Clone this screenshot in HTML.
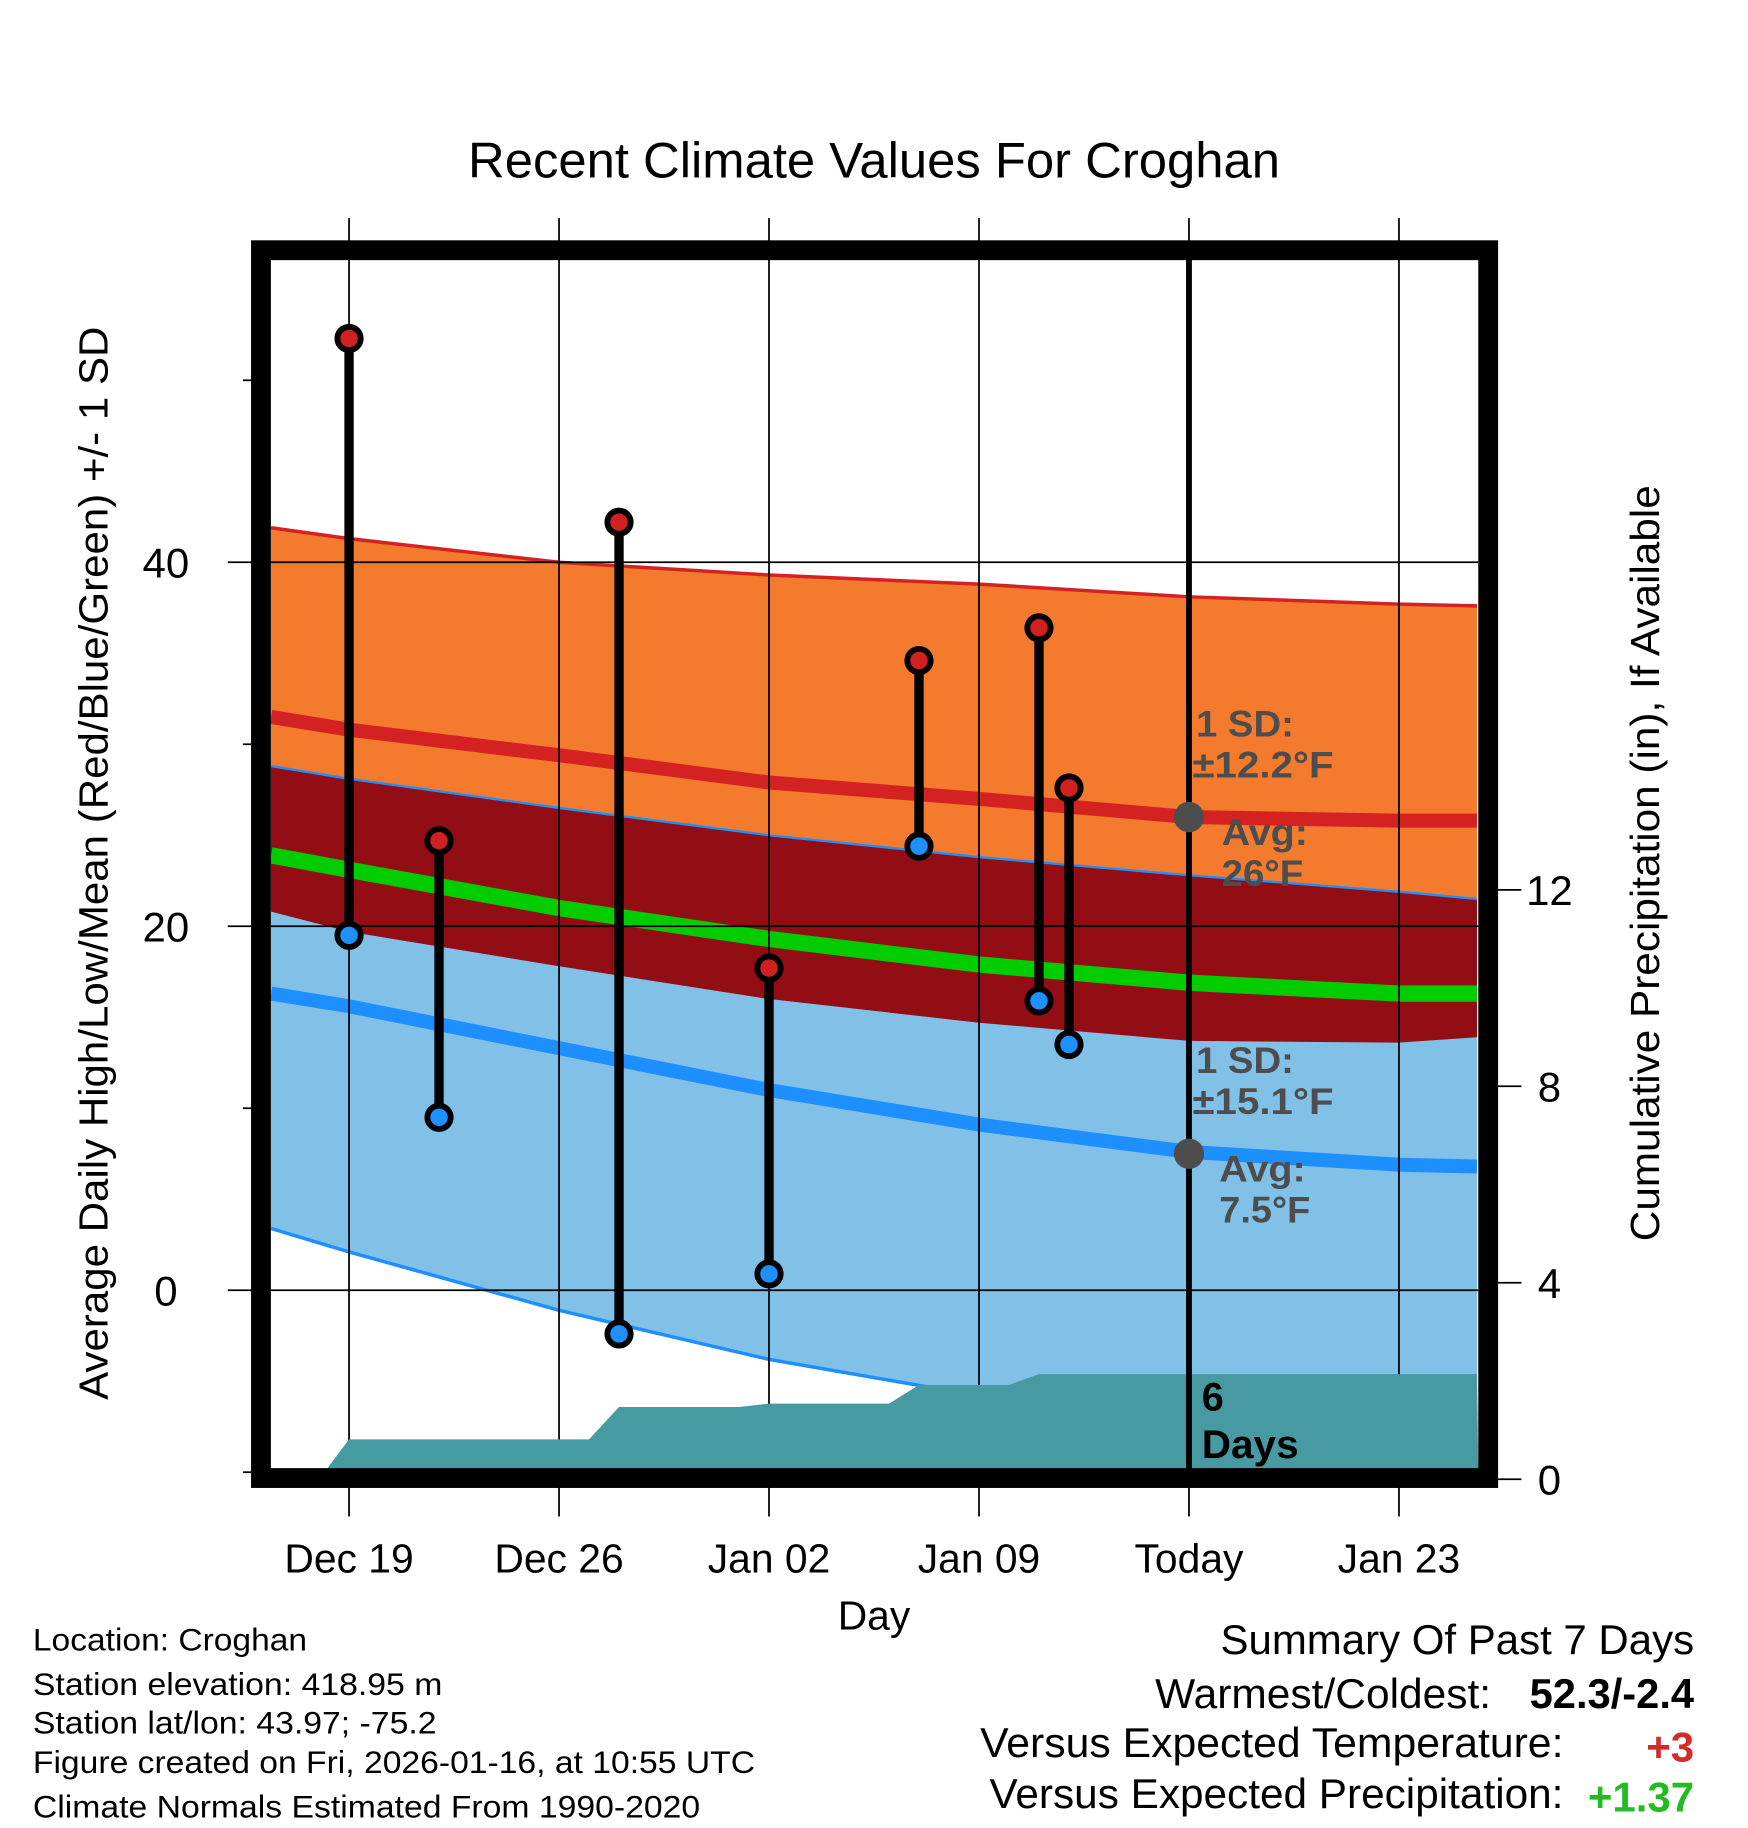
<!DOCTYPE html>
<html><head><meta charset="utf-8"><style>
html,body{margin:0;padding:0;background:#fff}
svg{display:block;font-family:"Liberation Sans",Arial,sans-serif}
</style></head><body>
<svg id="chart" width="1748" height="1828" viewBox="0 0 1498 1567" xmlns="http://www.w3.org/2000/svg">
<g id="bands"></g>
<g id="grid"></g>
<g id="precip"></g>
<g id="obs"></g>
<g id="axes"></g>
<g id="annot"></g>
<text x="749" y="152" font-size="43" text-anchor="middle" textLength="696" lengthAdjust="spacingAndGlyphs">Recent Climate Values For Croghan</text>
<text transform="translate(92,740) rotate(-90)" font-size="35" text-anchor="middle" textLength="920" lengthAdjust="spacingAndGlyphs">Average Daily High/Low/Mean (Red/Blue/Green) +/- 1 SD</text>
<text transform="translate(1422,740) rotate(-90)" font-size="35" text-anchor="middle" textLength="648" lengthAdjust="spacingAndGlyphs">Cumulative Precipitation (in), If Available</text>
<text x="749" y="1397" font-size="35" text-anchor="middle">Day</text>
<g font-size="27">
<text x="28" y="1415" textLength="235" lengthAdjust="spacingAndGlyphs">Location: Croghan</text>
<text x="28" y="1453" textLength="351" lengthAdjust="spacingAndGlyphs">Station elevation: 418.95 m</text>
<text x="28" y="1486" textLength="346" lengthAdjust="spacingAndGlyphs">Station lat/lon: 43.97; -75.2</text>
<text x="28" y="1520" textLength="619" lengthAdjust="spacingAndGlyphs">Figure created on Fri, 2026-01-16, at 10:55 UTC</text>
<text x="28" y="1558" textLength="572" lengthAdjust="spacingAndGlyphs">Climate Normals Estimated From 1990-2020</text>
</g>
<g font-size="36" text-anchor="end">
<text x="1452" y="1418" textLength="406" lengthAdjust="spacingAndGlyphs">Summary Of Past 7 Days</text>
<text x="1278" y="1464" textLength="288" lengthAdjust="spacingAndGlyphs">Warmest/Coldest:</text>
<text x="1452" y="1464" font-weight="bold" textLength="141" lengthAdjust="spacingAndGlyphs">52.3/-2.4</text>
<text x="1340" y="1506" textLength="500" lengthAdjust="spacingAndGlyphs">Versus Expected Temperature:</text>
<text x="1452" y="1510" font-weight="bold" fill="#d42a2a">+3</text>
<text x="1340" y="1550" textLength="492" lengthAdjust="spacingAndGlyphs">Versus Expected Precipitation:</text>
<text x="1452" y="1553" font-weight="bold" fill="#22bb22">+1.37</text>
</g>
</svg>
<script>
// normals sampled at day offsets from Dec 19
const normDays=[-2.6,0,7,14,21,28,35,37.6];
const hiPlusSD=[41.9,41.3,40.0,39.3,38.8,38.1,37.7,37.6];
const hiAvg=[31.5,30.8,29.4,27.9,27.0,26.0,25.8,25.8];
const hiMinusSD=[20.8,19.7,17.8,16.0,14.7,13.7,13.6,13.9];
const loPlusSD=[28.8,28.1,26.5,25.0,23.8,22.8,21.9,21.5];
const loAvg=[16.3,15.6,13.3,11.0,9.1,7.6,6.9,6.8];
const loMinusSD=[3.4,2.1,-1.1,-3.8,-5.8,-7.6,-8.7,-9.0];
const meanAvg=[23.9,23.1,21.0,19.3,17.9,16.9,16.3,16.3];
// observations
const obsDays=[0,3,9,14,19,23,24];
const obsHigh=[52.3,24.7,42.2,17.7,34.6,36.4,27.6];
const obsLow=[19.5,9.5,-2.4,0.9,24.4,15.9,13.5];
// cumulative precip, daily from day -1
const precipDays=[-1,0,1,2,3,4,5,6,7,8,9,10,11,12,13,14,15,16,17,18,19,20,21,22,23,24,25,26,27,28,37.6];
const precipVals=[0,0.81,0.81,0.81,0.81,0.81,0.81,0.81,0.81,0.81,1.47,1.47,1.47,1.47,1.47,1.54,1.54,1.54,1.54,1.54,1.92,1.92,1.92,1.92,2.14,2.14,2.14,2.14,2.14,2.14,2.14];
const xTickDays=[0,7,14,21,28,35];
const xTickLabels=["Dec 19","Dec 26","Jan 02","Jan 09","Today","Jan 23"];
const yTicks=[0,20,40];
const yMinor=[-10,10,30,50];
const y2Ticks=[0,4,8,12];

const L=232,R=1267,T=222,B=1259;
const X=d=>299+d*180/7;
const Y=v=>1106-v*15.6;
const Y2=v=>1268-v*42.1;
const NS='http://www.w3.org/2000/svg';
function mk(tag,parent,attrs){const e=document.createElementNS(NS,tag);for(const k in attrs)e.setAttribute(k,attrs[k]);parent.appendChild(e);return e;}
const pts=(arr,f)=>normDays.map((d,i)=>X(d).toFixed(1)+','+f(arr[i]).toFixed(1));
const bands=document.getElementById('bands');
let e;
e=mk('polygon',bands,{points:pts(hiPlusSD,Y).concat(pts(hiMinusSD,Y).reverse()).join(' '),fill:'#f47a2e'});

e=mk('polygon',bands,{points:pts(loPlusSD,Y).concat(pts(loMinusSD,Y).reverse()).join(' '),fill:'#82c1e7'});

e=mk('polygon',bands,{points:pts(loPlusSD,Y).concat(pts(hiMinusSD,Y).reverse()).join(' '),fill:'#930d15'});

e=mk('polyline',bands,{points:pts(hiPlusSD,Y).join(' '),fill:'none',stroke:'#d42222','stroke-width':3});

e=mk('polyline',bands,{points:pts(loPlusSD,Y).join(' '),fill:'none',stroke:'#1e8fff','stroke-width':2});

e=mk('polyline',bands,{points:pts(loMinusSD,Y).join(' '),fill:'none',stroke:'#1e8fff','stroke-width':3});

e=mk('polyline',bands,{points:pts(hiAvg,Y).join(' '),fill:'none',stroke:'#d42222','stroke-width':12});

e=mk('polyline',bands,{points:pts(loAvg,Y).join(' '),fill:'none',stroke:'#1e8fff','stroke-width':12});

e=mk('polyline',bands,{points:pts(meanAvg,Y).join(' '),fill:'none',stroke:'#00cc00','stroke-width':14});


// grid
const grid=document.getElementById('grid');
xTickDays.forEach((d,i)=>{
  e=mk('line',grid,{x1:X(d),x2:X(d),y1:187,y2:1300,stroke:'#000','stroke-width':1.5});
  
});
yTicks.forEach(v=>{
  e=mk('line',grid,{x1:195,x2:R,y1:Y(v),y2:Y(v),stroke:'#000','stroke-width':1.5});
  
});

// precip
const pr=document.getElementById('precip');
const pp=precipDays.map((d,i)=>Math.max(L,X(d)).toFixed(1)+','+Y2(precipVals[i]).toFixed(1));
pp.push(R+','+B);pp.push(X(precipDays[0]).toFixed(1)+','+B);
e=mk('polygon',pr,{points:pp.join(' '),fill:'#4799a2'});


// today line
e=mk('line',pr,{x1:X(28),x2:X(28),y1:T,y2:B,stroke:'#000','stroke-width':5});


// observations
const obs=document.getElementById('obs');
obsDays.forEach((d,i)=>{
  const g=mk('g',obs,{});
  
  
  mk('line',g,{x1:X(d),x2:X(d),y1:Y(obsHigh[i]),y2:Y(obsLow[i]),stroke:'#000','stroke-width':8});
  e=mk('circle',g,{cx:X(d),cy:Y(obsHigh[i]),r:10,fill:'#d02020',stroke:'#000','stroke-width':5});
  
  e=mk('circle',g,{cx:X(d),cy:Y(obsLow[i]),r:10,fill:'#1e90ff',stroke:'#000','stroke-width':5});
  
});

// axes
const ax=document.getElementById('axes');
e=mk('rect',ax,{x:223.5,y:214.5,width:1052,height:1052.5,fill:'none',stroke:'#000','stroke-width':17});

xTickDays.forEach((d,i)=>{
  e=mk('text',ax,{x:X(d),y:1348,'font-size':35,'text-anchor':'middle'});
  e.textContent=xTickLabels[i];
  
});
yTicks.forEach(v=>{
  e=mk('text',ax,{x:142,y:Y(v)+13,'font-size':36,'text-anchor':'middle'});
  e.textContent=v;
  
});
yMinor.forEach(v=>{
  e=mk('line',ax,{x1:208,x2:215,y1:Y(v),y2:Y(v),stroke:'#000','stroke-width':1.5});
  
});
y2Ticks.forEach(v=>{
  e=mk('line',ax,{x1:1284,x2:1304,y1:Y2(v),y2:Y2(v),stroke:'#000','stroke-width':1.5});
  
  e=mk('text',ax,{x:1328,y:Y2(v)+13,'font-size':36,'text-anchor':'middle'});
  e.textContent=v;
  
});

// annotations
const an=document.getElementById('annot');
[[26,'±12.2','26'],[7.5,'±15.1','7.5']].forEach(([avg,sd,av],k)=>{
  const cy=Y(avg);
  e=mk('circle',an,{cx:X(28),cy:cy,r:13,fill:'#4d4d4d'});
  
  const tx=[['1 SD:',1025,cy-69,84],[sd+'°F',1022,cy-34,121],['Avg:',1047-2*k,cy+24,74],[av+'°F',1047-2*k,cy+59,k?78:70]];
  tx.forEach(([s,x,y,w])=>{
    e=mk('text',an,{x:x,y:y,'font-size':32,'font-weight':'bold',fill:'#4d4d4d',textLength:w,lengthAdjust:'spacingAndGlyphs'});
    e.textContent=s;
    
  });
});
e=mk('text',an,{x:1030,y:1209,'font-size':34,'font-weight':'bold',fill:'#000'});
e.textContent='6';

e=mk('text',an,{x:1030,y:1250,'font-size':34,'font-weight':'bold',fill:'#000',textLength:83,lengthAdjust:'spacingAndGlyphs'});
e.textContent='Days';

</script>
</body></html>
